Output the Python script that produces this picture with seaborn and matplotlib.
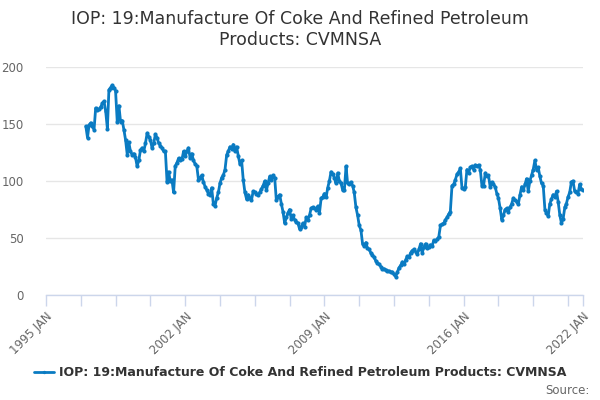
import matplotlib
matplotlib.use("Agg")
import matplotlib.pyplot as plt
import seaborn as sns
import pandas as pd

# monthly values, Jan 1997 .. Jan 2022
start_month = "1997-01"
values = [
    # 1997
    148, 138, 149, 151, 148, 145, 164, 162, 163, 165, 168, 170,
    # 1998
    161, 146, 180, 182, 184, 182, 179, 152, 166, 152, 153, 145,
    # 1999
    136, 123, 134, 126, 123, 124, 121, 113, 118, 127, 129, 126,
    # 2000
    133, 142, 139, 136, 129, 133, 141, 138, 133, 131, 129, 126,
    # 2001
    126, 99, 108, 100, 101, 90, 113, 116, 120, 118, 119, 126,
    # 2002
    122, 126, 129, 120, 124, 118, 115, 113, 101, 103, 105, 99,
    # 2003
    95, 92, 89, 88, 94, 80, 78, 85, 90, 98, 103, 105,
    # 2004
    110, 123, 126, 130, 128, 132, 126, 130, 122, 115, 118, 101,
    # 2005
    90, 84, 88, 85, 83, 91, 90, 89, 88, 90, 93, 96,
    # 2006
    100, 92, 98, 104, 101, 105, 103, 83, 86, 88, 80, 73,
    # 2007
    63, 68, 72, 75, 67, 70, 66, 64, 63, 58, 60, 63,
    # 2008
    60, 68, 66, 70, 76, 77, 76, 75, 78, 72, 85, 86,
    # 2009
    89, 86, 94, 100, 108, 106, 103, 98, 107, 100, 98, 92,
    # 2010
    92, 113, 98, 97, 99, 96, 90, 77, 70, 61, 57, 45,
    # 2011
    43, 46, 41, 40, 37, 35, 33, 30, 28, 27, 25, 23,
    # 2012
    23, 22, 21, 21, 20, 20, 18, 16, 20, 24, 26, 29,
    # 2013
    27, 31, 34, 33, 37, 39, 40, 38, 36, 40, 45, 37,
    # 2014
    42, 45, 41, 42, 44, 43, 48, 47, 49, 51, 61, 62,
    # 2015
    63, 66, 68, 71, 73, 96, 97, 101, 106, 108, 111, 94,
    # 2016
    93, 95, 110, 107, 112, 113, 110, 114, 113, 114, 110, 96,
    # 2017
    96, 107, 104, 105, 95, 99, 97, 95, 89, 85, 76, 66,
    # 2018
    70, 75, 76, 73, 77, 80, 85, 83, 82, 80, 88, 95,
    # 2019
    92, 97, 102, 91, 100, 105, 110, 118, 110, 112, 104, 98,
    # 2020
    96, 75, 72, 69, 80, 84, 88, 86, 91, 82, 70, 63,
    # 2021
    67, 77, 80, 86, 90, 99, 100, 91, 90, 89, 97, 93,
    # 2022
    92,
]
series_name = "IOP: 19:Manufacture Of Coke And Refined Petroleum Products: CVMNSA"
title = "IOP: 19:Manufacture Of Coke And Refined Petroleum\nProducts: CVMNSA"
y_ticks = [0, 50, 100, 150, 200]

df = pd.DataFrame({
    "date": pd.date_range(start_month, periods=len(values), freq="MS"),
    "value": values,
})

sns.set_style("white")
plt.rcParams["font.family"] = ["DejaVu Sans"]

fig = plt.figure(figsize=(6, 4), dpi=100)
ax = fig.add_axes([0.0767, 0.2625, 0.895, 0.57])

line_color = "#0a7bc2"
sns.lineplot(data=df, x="date", y="value", ax=ax, color=line_color,
             linewidth=2, marker="o", markersize=3, markeredgewidth=0,
             label=series_name, legend=False)

# axes look
ax.set_ylim(0, 200)
ax.set_yticks(y_ticks)
ax.grid(axis="y", color="#e6e6e6", linewidth=1)
ax.set_axisbelow(True)
for side in ["left", "right", "top"]:
    ax.spines[side].set_visible(False)
ax.spines["bottom"].set_color("#ccd6eb")
ax.spines["bottom"].set_linewidth(1)
ax.set_xlabel("")
ax.set_ylabel("")

# ticks every 21 months, plus one at the end of the axis
x0 = pd.Timestamp("1995-01-01")
x1 = pd.Timestamp("2022-01-01")
ax.set_xlim(x0, x1)
tick_dates = list(pd.date_range(x0, x1, freq="21MS"))
labels = [d.strftime("%Y JAN") if i % 4 == 0 else "" for i, d in enumerate(tick_dates)]
tick_dates.append(x1)
labels.append(x1.strftime("%Y JAN"))
ax.set_xticks(tick_dates)
ax.set_xticklabels(labels, rotation=45, ha="right", rotation_mode="anchor")
ax.tick_params(axis="x", length=8, width=1, color="#ccd6eb", labelcolor="#666666",
               labelsize=8.5, pad=3, direction="out", bottom=True)
ax.tick_params(axis="y", length=0, labelcolor="#666666", labelsize=8.5, pad=16)

fig.text(0.5, 0.975, title, ha="center", va="top", fontsize=12.5, color="#333333")

handles, lbls = ax.get_legend_handles_labels()
fig.legend(handles, lbls, loc="center", bbox_to_anchor=(0.5, 0.068), frameon=False,
           prop={"size": 9, "weight": "bold"}, labelcolor="#333333",
           handlelength=1.6, handletextpad=0.4, markerscale=0.8)
fig.text(0.982, 0.025, "Source:", ha="right", va="center", fontsize=8.5, color="#666666")

fig.savefig("out.png", dpi=100)
